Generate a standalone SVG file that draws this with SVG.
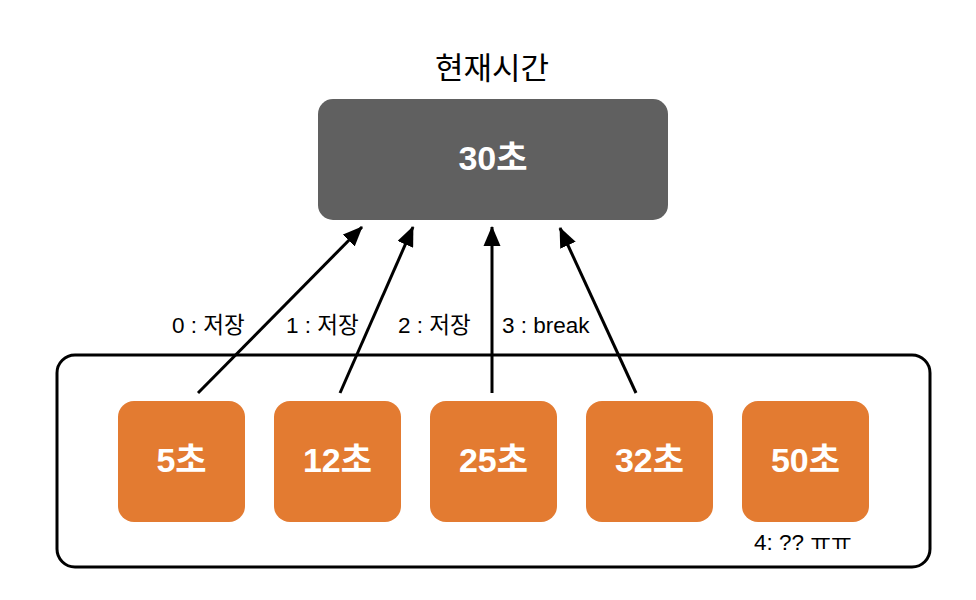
<svg xmlns="http://www.w3.org/2000/svg" width="976" height="600" viewBox="0 0 976 600">
<style>
.t{font-family:"Liberation Sans","Noto Sans CJK KR",sans-serif;}
.lbl{font-size:22.5px;fill:#000;}
.node{fill:#E37B31;}
.nt{font-size:34px;font-weight:bold;fill:#fff;text-anchor:middle;}
.ar{stroke:#000;stroke-width:3;fill:none;marker-end:url(#ah);}
</style>
<defs>
<marker id="ah" viewBox="0 0 20 17" refX="19" refY="8.5" markerWidth="6.67" markerHeight="5.67" orient="auto" markerUnits="strokeWidth">
<path d="M0,0 L20,8.5 L0,17 Z" fill="#000"/>
</marker>
</defs>
<rect width="976" height="600" fill="#fff"/>
<g id="container">
<rect x="57" y="355" width="873" height="212" rx="18" fill="none" stroke="#000" stroke-width="3"/>
</g>
<g id="title"><text class="t" x="492" y="79" font-size="31" text-anchor="middle">현재시간</text></g>
<g id="now">
<rect x="318" y="99" width="350" height="121" rx="15" fill="#606060"/>
<text class="t" x="493" y="170" font-size="34" font-weight="bold" fill="#fff" text-anchor="middle">30초</text>
</g>
<g id="n5"><rect class="node" x="118" y="401" width="127" height="121" rx="16"/><text class="t nt" x="181.5" y="472">5초</text></g>
<g id="n12"><rect class="node" x="274" y="401" width="127" height="121" rx="16"/><text class="t nt" x="337.5" y="472">12초</text></g>
<g id="n25"><rect class="node" x="430" y="401" width="127" height="121" rx="16"/><text class="t nt" x="493.5" y="472">25초</text></g>
<g id="n32"><rect class="node" x="586" y="401" width="127" height="121" rx="16"/><text class="t nt" x="649.5" y="472">32초</text></g>
<g id="n50"><rect class="node" x="742" y="401" width="127" height="121" rx="16"/><text class="t nt" x="805.5" y="472">50초</text></g>
<g id="connectors">
<line class="ar" x1="198" y1="393" x2="362" y2="227"/>
<line class="ar" x1="340" y1="393" x2="413" y2="227"/>
<line class="ar" x1="492" y1="393" x2="492" y2="227"/>
<line class="ar" x1="636" y1="393" x2="560" y2="228"/>
</g>
<g id="labels">
<text class="t lbl" x="172" y="333">0 : 저장</text>
<text class="t lbl" x="286" y="333">1 : 저장</text>
<text class="t lbl" x="398" y="333">2 : 저장</text>
<text class="t lbl" x="502" y="333">3 : break</text>
<text class="t lbl" x="754" y="550">4: ?? ㅠㅠ</text>
</g>
</svg>
